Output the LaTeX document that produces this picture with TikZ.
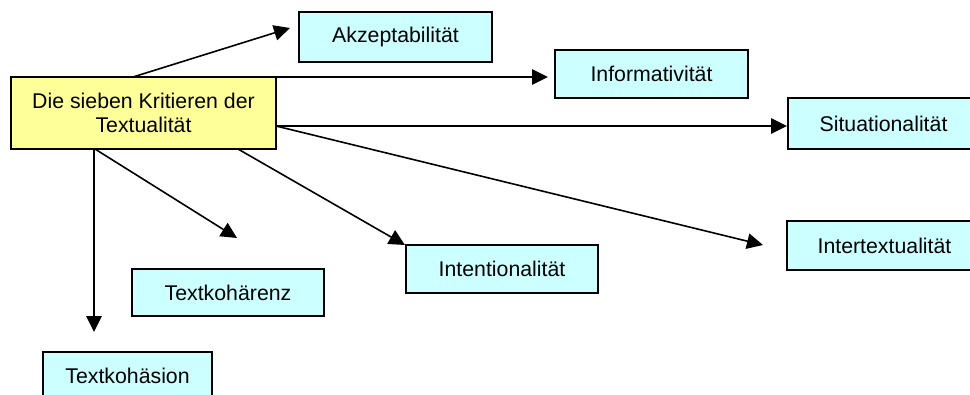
\documentclass[tikz,border=0pt]{standalone}
\usepackage{fontspec}
\setmainfont{Liberation Sans}
\usetikzlibrary{arrows.meta}
\definecolor{mainfill}{HTML}{FFFF99}
\definecolor{boxfill}{HTML}{CCFFFF}
\begin{document}
\begin{tikzpicture}[x=1bp,y=-1bp,
  every node/.style={font=\fontsize{21.3bp}{24bp}\selectfont, inner sep=0pt, align=center},
  crit/.style={draw=black, line width=1.6bp, fill=boxfill, minimum height=48bp},
  mainbox/.style={draw=black, line width=1.6bp, fill=mainfill, minimum width=265bp, minimum height=72bp},
  conn/.style={line width=1.6bp, -{Triangle[length=16bp,width=15.5bp]}}]
\useasboundingbox (0,0) rectangle (970,394);
\clip (0,0) rectangle (970,394);
\node[mainbox] (main) at (143.5,113) {Die sieben Kritieren der\\Textualität};
\node[crit, minimum width=193bp, minimum height=50bp] (akz) at (395.5,37) {Akzeptabilität};
\node[crit, minimum width=193bp] (inf) at (651.5,74) {Informativität};
\node[crit, minimum width=191bp, minimum height=51bp] (sit) at (883.5,123.5) {Situationalität};
\node[crit, minimum width=195bp, minimum height=49bp] (inter) at (884.5,245.5) {Intertextualität};
\node[crit, minimum width=192bp] (intent) at (502,269) {Intentionalität};
\node[crit, minimum width=192bp, minimum height=47bp] (koh) at (228,292.5) {Textkohärenz};
\node[crit, minimum width=169bp] (kohs) at (127.5,376) {Textkohäsion};
% start points on the main box
\coordinate (s1) at (133,77);
\coordinate (s2) at (212,77);
\coordinate (s3) at (276,126);
\coordinate (s5) at (238,149);
\coordinate (s6) at (95,149);
\coordinate (s7) at (94,149);
% free arrow ends
\coordinate (t1) at (290,28);
\coordinate (t2) at (548,77);
\coordinate (t3) at (787,126);
\coordinate (t4) at (763,245);
\coordinate (t5) at (405,245);
\coordinate (t6) at (237,238);
\coordinate (t7) at (94,332);
\draw[conn] (s1) -- (t1);
\draw[conn] (s2) -- (t2);
\draw[conn] (s3) -- (t3);
\draw[conn] (s3) -- (t4);
\draw[conn] (s5) -- (t5);
\draw[conn] (s6) -- (t6);
\draw[conn] (s7) -- (t7);
\end{tikzpicture}
\end{document}
